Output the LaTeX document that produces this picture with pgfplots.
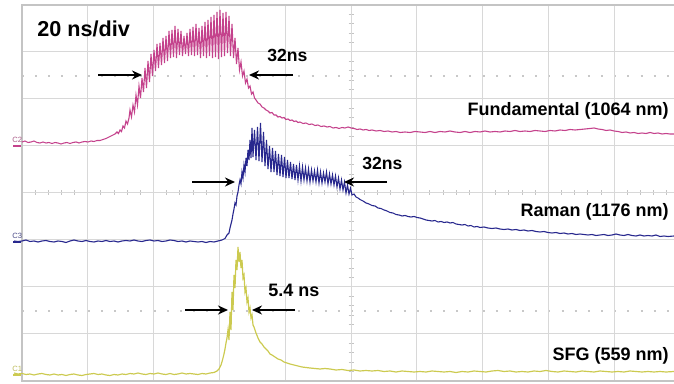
\documentclass[border=0pt]{standalone}
\usepackage{pgfplots}
\pgfplotsset{compat=1.18}
\usepackage{fontspec}
\setmainfont{Liberation Sans}
\usetikzlibrary{arrows.meta}
\definecolor{magt}{RGB}{196,66,140}
\definecolor{bluet}{RGB}{40,40,142}
\definecolor{yelt}{RGB}{204,202,80}
\definecolor{gridc}{RGB}{216,216,216}
\definecolor{framec}{RGB}{196,196,196}
\definecolor{dotc}{RGB}{200,200,200}
\begin{document}
\begin{tikzpicture}
\useasboundingbox (0,0) rectangle (337pt,192pt);
\clip (0,0) rectangle (337pt,192pt);
% background decorations (pixel coordinates, y down)
\begin{scope}[x=0.5pt,y=-0.5pt,yshift=192pt]
  \draw[dotc,line width=0.6pt,dash pattern=on 1pt off 5.58pt] (22,76) -- (680,76);
  \draw[dotc,line width=0.6pt,dash pattern=on 1pt off 5.58pt] (22,311) -- (680,311);
  \foreach \i in {1,...,49} {\draw[framec,line width=0.5pt] ({22+13.16*\i},190.5) -- ({22+13.16*\i},195.5);}
  \foreach \i in {1,...,39} {\draw[framec,line width=0.5pt] (348.5,{5+9.4*\i}) -- (353.5,{5+9.4*\i});}
\end{scope}
\begin{axis}[at={(175.5pt,95.5pt)}, anchor=center, scale only axis,
  width=329pt, height=188pt, xmin=22, xmax=680, ymin=5, ymax=381, y dir=reverse,
  xtick={22,87.8,153.6,219.4,285.2,351,416.8,482.6,548.4,614.2,680},
  ytick={5,52,99,146,193,240,287,334,381},
  xticklabels={}, yticklabels={}, major tick length=0pt,
  grid=major, grid style={gridc,line width=0.5pt},
  axis line style={framec,line width=0.6pt}, clip=false]
% Fundamental
\addplot[magt,line width=0.55pt] coordinates {
(22,142)(25,141)(28,142.5)(31,142)(34,141)(37,142.5)(40,143)(43,142)(46,143)(49,142.5)(52,143.5)(55,142.5)(58,143)(61,144)(64,143)(67,142.5)(70,143.5)(73,142.5)(76,142)(79,143)(82,142)(85,141.5)(88,142)(91,141)(94,141.5)(97,140.5)(100,140.5)(103,139.5)(106,138.5)(109,137)(112,135.5)(115,134)(117,132)(118.5,133.5)(120,130)(121.5,131.5)(123,126)(124.5,128)(126,121)(127.5,124)(129,118)
(130,110)(131.5,117)(133,105)(134.5,112)(136,95)(137.5,105)(139,86)(140.5,98)(142,78)(143.5,92)(145,68)(146.5,88)(148,61)(149.5,82)(151,54)(152.5,76)(154,50)(155.5,71)(157,44)(158.5,68)(160,43)(161.5,65)(163,38)(164.5,63)(166,36)(167.5,61)(169,31)(170.5,58)(172,30)(173.5,57)(175,26)(176.5,58)(178,29)(179.5,55)(181,31)(182.5,56)(184,36)(185.5,54)(187,33)(188.5,56)(190,29)(191.5,55)(193,27)(194.5,56)(196,24)(197.5,55)(199,28)(200.5,58)(202,26)(203.5,56)(205,22)(206.5,58)(208,20)(209.5,56)(211,17)(212.5,58)(214,15)(215.5,57)(217,12)(218.5,59)(220,10)(221.5,57)(223,13)(224.5,56)(226,12)(227.5,53)(229,16)(230.5,56)(232,24)(233.5,58)(235,38)(236.5,64)(238,48)(239.5,70)(241,62)(242.5,76)(244,71)(245.5,83)(247,79)(248.5,88)(250,86)(251.5,94)(253,92)(254.5,98)
(256,100)(258,103)(260,104)(262,107)(264,108)(266,110)(268,111)(270,113)(272,112.5)(274,115)(276,115)(278,117)(280,116.5)(282,118)(284,117.5)(286,119.5)(288,119)(290,120.5)(292,120)(294,121.5)(296,121)(298,122.5)(300,122)(303,123.5)(306,123)(309,124.5)(312,124)(315,125.5)(318,125)(321,126.5)(324,126)(327,127)(330,126.5)(333,128)(336,127.5)(339,128.5)(342,127.5)(345,128)(348,127)(351,128)(354,128.5)(357,129.5)(360,129)(363,130)(366,129.5)(369,130.5)(372,130)(376,131)(380,130.5)(384,131.5)(388,131)(392,132)(396,131.5)(400,132.5)(405,132)(410,132.5)(415,131.5)(420,132)(425,132.5)(430,131.5)(435,132.5)(440,131.5)(445,132)(450,131)(455,132)(460,132.5)(465,131.5)(470,132.5)(475,131.5)(480,132)(485,131)(490,132)(495,131.5)(500,132)(505,131)(510,131.5)(515,130.5)(520,131.5)(525,131)(530,131.5)(535,130.5)(540,131)(545,131.5)(550,130.5)(555,131)(560,130)(565,130.5)(570,129.5)(575,130)(580,129.5)(585,129)(590,128.5)(594,128)(598,129)(602,129.5)(606,130.5)(610,130)(614,131)(618,131.5)(622,132.5)(626,132)(630,133)(634,132.5)(638,133.5)(642,133)(646,133.5)(650,132.5)(654,133.5)(658,133)(662,134)(666,133.5)(670,134)(674,134)};
% Raman
\addplot[bluet,line width=0.55pt] coordinates {
(14,241)(18,241.5)(22,241)(26,240)(30,241.5)(34,241)(38,242)(42,241)(46,240.5)(50,241.5)(54,242)(58,241)(62,241.5)(66,242.5)(70,241)(74,240)(78,241)(82,241.5)(86,240.5)(90,241.5)(94,242)(98,241)(102,241.5)(106,240.5)(110,241.5)(114,241)(118,242)(122,241)(126,240.5)(130,241)(134,240)(138,241)(142,241.5)(146,240.5)(150,240)(154,241)(158,240.5)(162,241.5)(166,241)(170,240)(174,240.5)(178,241.5)(182,241)(186,242)(190,241)(194,241.5)(198,242)(202,241.5)(206,242.5)(210,241.5)(214,242)(218,241)(222,240)(225,238.5)(227,235)(229,233)(230,228)(231,224)(232,220)(233,214)(234,209)(235,203)(236,205)(237,196)(238,192)(239,185)(240,180)(241,184)(242,172)(243,178)(244,165)(245,172)(246,158)(247,166)(248,150)(249,160)(250,140)(251,158)(252,128)(253,157)(254.5,130)(256,160)(257.5,127)(259,161)(260.5,123)(262,162)(263.5,132)(265,166)(266.5,140)(268,169)(269.5,146)(271,172)(272.5,148)(274,172)(275.5,151)(277,175)(278.5,154)(280,176)(281.5,155)(283,177)(284.5,157)(286,178)(287.5,160)(289,178)(290.5,162)(292,179)(293.5,164)(295,180)(296.5,165)(298,180)(299.5,166)(301,181)(302.5,167)(304,180)(305.5,168)(307,181)(308.5,169)(310,182)(311.5,170)(313,181)(314.5,171)(316,182)(317.5,170)(319,183)(320.5,172)(322,183)(323.5,173)(325,182)(326.5,172)(328,184)(329.5,174)(331,184)(332.5,175)(334,185)(335.5,176)(337,187)(338.5,178)(340,189)(341.5,180)(343,190)(344.5,182)(346,193)(347.5,185)(349,194)(350.5,188)(352,195)(354,194)(356,197)(358,198)
(360,199.5)(363,201)(366,203)(369,204)(372,205.5)(375,206)(378,208)(381,208.5)(384,210)(387,211)(390,212.5)(393,213)(396,214.5)(399,215)(402,216)(405,215.5)(408,216.5)(411,217)(414,216.5)(417,217.5)(420,218)(423,219)(426,220)(429,220.5)(432,221)(435,220.5)(438,222)(441,221.5)(444,222.5)(447,222)(450,223)(453,222.5)(456,224)(459,224.5)(462,225)(465,224.5)(468,226)(471,225.5)(474,227)(477,226.5)(480,227.5)(484,227)(488,228)(492,228.5)(496,228)(500,229)(504,229.5)(508,229)(512,230)(516,229.5)(520,230.5)(524,230)(528,231)(532,230.5)(536,231.5)(540,232)(544,231.5)(548,232.5)(552,233)(556,232.5)(560,233.5)(564,233)(568,234)(572,233.5)(576,234.5)(580,234)(584,234.5)(588,235)(592,234.5)(596,235.5)(600,235)(604,234.5)(608,235.5)(612,235)(616,234)(620,235)(624,235.5)(628,234.5)(632,235.5)(636,236)(640,235)(644,236)(648,235.5)(652,236)(656,235)(660,236.5)(664,236)(668,236.5)(674,236)};
% SFG
\addplot[yelt,line width=0.6pt] coordinates {
(14,373)(18,374)(22,373.5)(26,374.5)(30,374)(34,375)(38,374)(42,373.5)(46,374.5)(50,375)(54,374)(58,375)(62,374.5)(66,375.5)(70,374.5)(74,374)(78,375)(82,375.5)(86,374.5)(90,374)(94,373.5)(98,374.5)(102,374)(106,375)(110,375.5)(114,374.5)(118,375)(122,374)(126,374.5)(130,373.5)(134,374)(138,373)(142,374)(146,374.5)(150,373.5)(154,374)(158,373)(162,374)(166,374.5)(170,373.5)(174,374.5)(178,374)(182,373)(186,374)(190,373.5)(194,374)(198,374.5)(202,373.5)(206,374)(210,373)(214,372.5)(217,371)(219,369)(221,365)(222.5,360)(224,354)(225,349)(226,343)(227,338)(228,330)(229,340)(230,312)(231,330)(232,292)(233,310)(234,275)(235,288)(236,260)(237,270)(238,247)(239,262)(240,252)(241,268)(242,260)(243,278)(244,275)(245,292)(246,288)(247,302)(248,298)(249,312)(250,308)(251,318)(252,315)(253,325)(254,327)(256,333)(258,338)(260,342)(262,344)(264,347)(266,349)(268,351)(270,354)(272,355)(275,357)(278,359)(281,360)(284,362)(287,363)(290,364)(294,365)(298,366)(302,367)(306,367.5)(310,368)(315,368.5)(320,369)(325,368.5)(330,369)(336,370)(342,369.5)(348,370.5)(354,370)(360,371)(366,370.5)(372,371)(378,370.5)(384,371.5)(390,371)(396,372)(402,371)(408,371.5)(414,372)(420,371.5)(426,372)(432,371)(438,371.5)(444,372)(450,371.5)(456,372.5)(462,371.5)(468,372)(474,371)(480,371.5)(486,372)(492,371)(498,370.5)(504,371.5)(510,371)(516,372)(522,371.5)(528,372)(534,371)(540,371.5)(546,370.5)(552,371.5)(558,372)(564,371)(570,371.5)(576,372)(582,371)(588,371.5)(594,372)(600,371)(606,371.5)(612,372)(618,371.5)(624,372)(630,371)(636,371.5)(642,372)(648,371.5)(654,372)(660,371.5)(666,372)(674,371.5)};
\end{axis}
% annotations (pixel coordinates, y down)
\begin{scope}[x=0.5pt,y=-0.5pt,yshift=192pt]
  \draw[magt,line width=1pt] (13,146) -- (21,146);
  \draw[bluet,line width=1pt] (13,242) -- (21,242);
  \draw[yelt,line width=1pt] (13,375) -- (21,375);
  \node[anchor=base west,inner sep=0pt,text=magt!60!gray,font=\fontsize{3.8}{4}\selectfont] at (12,143) {C2};
  \node[anchor=base west,inner sep=0pt,text=bluet!60!gray,font=\fontsize{3.8}{4}\selectfont] at (12,239) {C3};
  \node[anchor=base west,inner sep=0pt,text=yelt!80!gray,font=\fontsize{3.8}{4}\selectfont] at (12,372) {C1};
  \node[anchor=base west,inner sep=0pt,font=\fontsize{10.8}{12}\selectfont\bfseries] at (37,37) {20 ns/div};
  \node[anchor=base west,inner sep=0pt,font=\fontsize{8.8}{10}\selectfont\bfseries] at (267,62) {32ns};
  \node[anchor=base west,inner sep=0pt,font=\fontsize{8.8}{10}\selectfont\bfseries] at (362,170) {32ns};
  \node[anchor=base west,inner sep=0pt,font=\fontsize{9}{10}\selectfont\bfseries] at (268,296.5) {5.4 ns};
  \node[anchor=base east,inner sep=0pt,font=\fontsize{9}{10}\selectfont\bfseries] at (669,116) {Fundamental (1064 nm)};
  \node[anchor=base east,inner sep=0pt,font=\fontsize{9}{10}\selectfont\bfseries] at (669,217) {Raman (1176 nm)};
  \node[anchor=base east,inner sep=0pt,font=\fontsize{9}{10}\selectfont\bfseries] at (669,361) {SFG (559 nm)};
  \tikzset{arr/.style={line width=1.2pt,-{Stealth[length=5pt,width=4.5pt]}}}
  \draw[arr] (98,75) -- (142,75);
  \draw[arr] (293,75) -- (249,75);
  \draw[arr] (192,182) -- (235,182);
  \draw[arr] (387,182) -- (344,182);
  \draw[arr] (185,310) -- (228,310);
  \draw[arr] (295,310) -- (252,310);
\end{scope}
\end{tikzpicture}
\end{document}
